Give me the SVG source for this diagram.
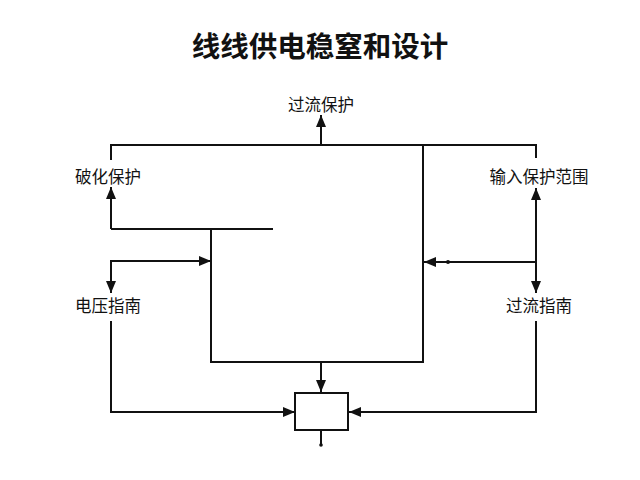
<svg xmlns="http://www.w3.org/2000/svg" width="640" height="480" viewBox="0 0 640 480">
<style>
.t{font-family:"Noto Sans CJK SC","Noto Sans",sans-serif;fill:#111;text-anchor:middle;dominant-baseline:central}
.lbl{font-size:16.5px}
.title{font-size:28.5px;font-weight:bold}
.w{fill:none;stroke:#111;stroke-width:2}
</style>
<defs>
<marker id="a" viewBox="0 0 12 10" refX="12" refY="5" markerWidth="12" markerHeight="10" markerUnits="userSpaceOnUse" orient="auto">
<path d="M0,0L12,5L0,10z" fill="#111"/>
</marker>
</defs>
<rect width="640" height="480" fill="#fff"/>
<text class="t title" x="320" y="44">线线供电稳窒和设计</text>
<g id="connectors">
<path class="w" d="M111,160V145H536V158"/>
<path class="w" d="M321,145V115" marker-end="url(#a)"/>
<path class="w" d="M111,229V187" marker-end="url(#a)"/>
<path class="w" d="M111,229H273"/>
<path class="w" d="M211,229V362H423V145"/>
<path class="w" d="M111,261H211" marker-end="url(#a)"/>
<path class="w" d="M111,260V293" marker-end="url(#a)"/>
<path class="w" d="M111,321V412H295" marker-end="url(#a)"/>
<path class="w" d="M536,262V188" marker-end="url(#a)"/>
<path class="w" d="M536,262H424" marker-end="url(#a)"/>
<circle cx="448" cy="262" r="2" fill="#111"/>
<path class="w" d="M536,262V293" marker-end="url(#a)"/>
<path class="w" d="M536,321V412H349" marker-end="url(#a)"/>
<path class="w" d="M321,362V392" marker-end="url(#a)"/>
<path class="w" d="M321,430V444"/>
<circle cx="321" cy="445" r="1.8" fill="#111"/>
</g>
<g id="node-top"><text class="t lbl" x="321" y="104">过流保护</text></g>
<g id="node-left1"><text class="t lbl" x="108" y="176">破化保护</text></g>
<g id="node-right1"><text class="t lbl" x="539" y="176">输入保护范围</text></g>
<g id="node-left2"><text class="t lbl" x="108" y="305">电压指南</text></g>
<g id="node-right2"><text class="t lbl" x="539" y="305">过流指南</text></g>
<g id="node-box"><rect x="295" y="393" width="53" height="37" fill="#fff" stroke="#111" stroke-width="2"/></g>
</svg>
